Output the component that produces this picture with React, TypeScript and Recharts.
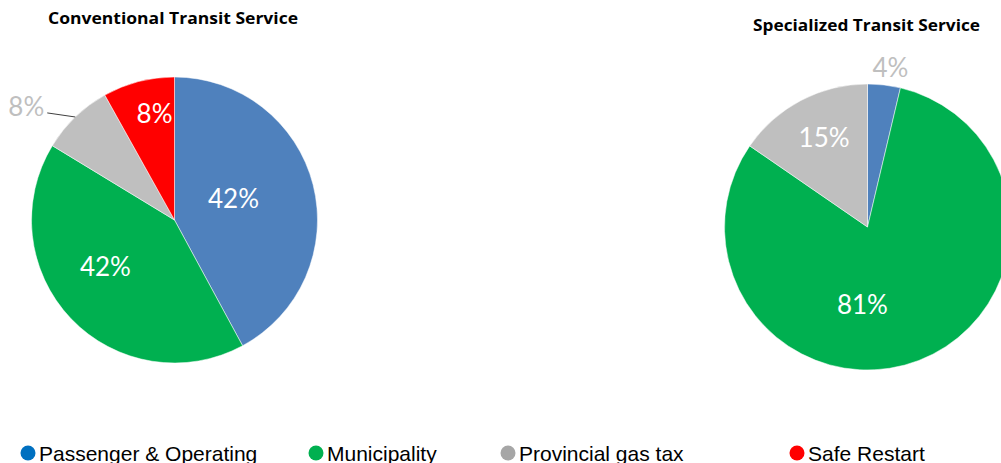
import React from "react";
import { PieChart, Pie, Cell } from "recharts";

const CATEGORIES = ["Passenger & Operating", "Municipality", "Provincial gas tax", "Safe Restart"];
const CONVENTIONAL_VALUES = [42.1, 41.6, 8.2, 8.1];
const SPECIALIZED_CATEGORIES = ["Passenger & Operating", "Municipality", "Provincial gas tax"];
const SPECIALIZED_VALUES = [3.7, 80.9, 15.4];
const TITLES = ["Conventional Transit Service", "Specialized Transit Service"];

const SLICE_COLORS = ["#4f81bd", "#00b050", "#bfbfbf", "#ff0000"];
const LEGEND_COLORS = ["#0070c0", "#00b050", "#a6a6a6", "#ff0000"];

const conventionalData = CATEGORIES.map((name, i) => ({ name, value: CONVENTIONAL_VALUES[i] }));
const specializedData = SPECIALIZED_CATEGORIES.map((name, i) => ({ name, value: SPECIALIZED_VALUES[i] }));

// label layout (style): radius factor, angle shift (deg clockwise), outside flag, leader line
const CONV_LABEL_LAYOUT = [
  { r: 0.44, shift: -6, outside: false, line: false },
  { r: 0.58, shift: 10, outside: false, line: false },
  { r: 1.163, shift: -6, outside: true, line: true },
  { r: 0.76, shift: 4, outside: false, line: false },
];
const SPEC_LABEL_LAYOUT = [
  { r: 1.13, shift: 1.5, outside: true, line: false },
  { r: 0.54, shift: 24.8, outside: false, line: false },
  { r: 0.7, shift: 2, outside: false, line: false },
];

const LABEL_FONT = "Lato, 'Open Sans', sans-serif";
const TITLE_FONT = "'Open Sans', Lato, sans-serif";

function polar(cx: number, cy: number, r: number, clockDeg: number) {
  const a = (clockDeg * Math.PI) / 180;
  return { x: cx + r * Math.sin(a), y: cy - r * Math.cos(a) };
}

function makeLabel(layout: typeof CONV_LABEL_LAYOUT) {
  return (props: any) => {
    const { cx, cy, midAngle, outerRadius, percent, index } = props;
    const l = layout[index];
    const clockMid = 90 - midAngle;
    const p = polar(cx, cy, outerRadius * l.r, clockMid + l.shift);
    const text = `${Math.round(percent * 100)}%`;
    const color = l.outside ? "#bfbfbf" : "#ffffff";
    if (l.line) {
      const s = polar(cx, cy, outerRadius, clockMid);
      return (
        <g>
          <line x1={s.x} y1={s.y} x2={p.x} y2={p.y} stroke="#404040" strokeWidth={1} />
          <text x={p.x - 3} y={p.y - 7} fill={color} textAnchor="end" dominantBaseline="central" fontFamily={LABEL_FONT} fontSize={26}>
            {text}
          </text>
        </g>
      );
    }
    return (
      <text x={p.x} y={p.y} fill={color} textAnchor="middle" dominantBaseline="central" fontFamily={LABEL_FONT} fontSize={26}>
        {text}
      </text>
    );
  };
}

export default function App() {
  return (
    <div style={{ position: "absolute", left: 0, top: 0, width: 1001, height: 463, background: "#fff", overflow: "hidden" }}>
      <PieChart width={1001} height={463} margin={{ top: 0, right: 0, bottom: 0, left: 0 }}>
        <Pie
          data={conventionalData}
          dataKey="value"
          nameKey="name"
          cx={174.5}
          cy={220}
          outerRadius={143}
          startAngle={90}
          endAngle={-270}
          stroke="#ffffff"
          strokeWidth={0.5}
          label={makeLabel(CONV_LABEL_LAYOUT)}
          labelLine={false}
          isAnimationActive={false}
        >
          {conventionalData.map((d, i) => (
            <Cell key={d.name} fill={SLICE_COLORS[i]} />
          ))}
        </Pie>
        <Pie
          data={specializedData}
          dataKey="value"
          nameKey="name"
          cx={867.5}
          cy={227}
          outerRadius={143}
          startAngle={90}
          endAngle={-270}
          stroke="#ffffff"
          strokeWidth={0.5}
          label={makeLabel(SPEC_LABEL_LAYOUT)}
          labelLine={false}
          isAnimationActive={false}
        >
          {specializedData.map((d, i) => (
            <Cell key={d.name} fill={SLICE_COLORS[i]} />
          ))}
        </Pie>
      </PieChart>
      <svg width={1001} height={463} style={{ position: "absolute", left: 0, top: 0, pointerEvents: "none" }}>
        <text x={173} y={24} textAnchor="middle" fontFamily={TITLE_FONT} fontWeight={700} fontSize={16} textLength={250} lengthAdjust="spacingAndGlyphs" fill="#000">
          {TITLES[0]}
        </text>
        <text x={866.5} y={31} textAnchor="middle" fontFamily={TITLE_FONT} fontWeight={700} fontSize={16} textLength={227} lengthAdjust="spacingAndGlyphs" fill="#000">
          {TITLES[1]}
        </text>
        {[28, 316, 508, 797].map((cxL, i) => (
          <g key={CATEGORIES[i]}>
            <circle cx={cxL} cy={453} r={7.5} fill={LEGEND_COLORS[i]} />
            <text x={cxL + 11} y={461} fontFamily="'Liberation Sans', Arial, sans-serif" fontSize={21} fill="#000">
              {CATEGORIES[i]}
            </text>
          </g>
        ))}
      </svg>
    </div>
  );
}
